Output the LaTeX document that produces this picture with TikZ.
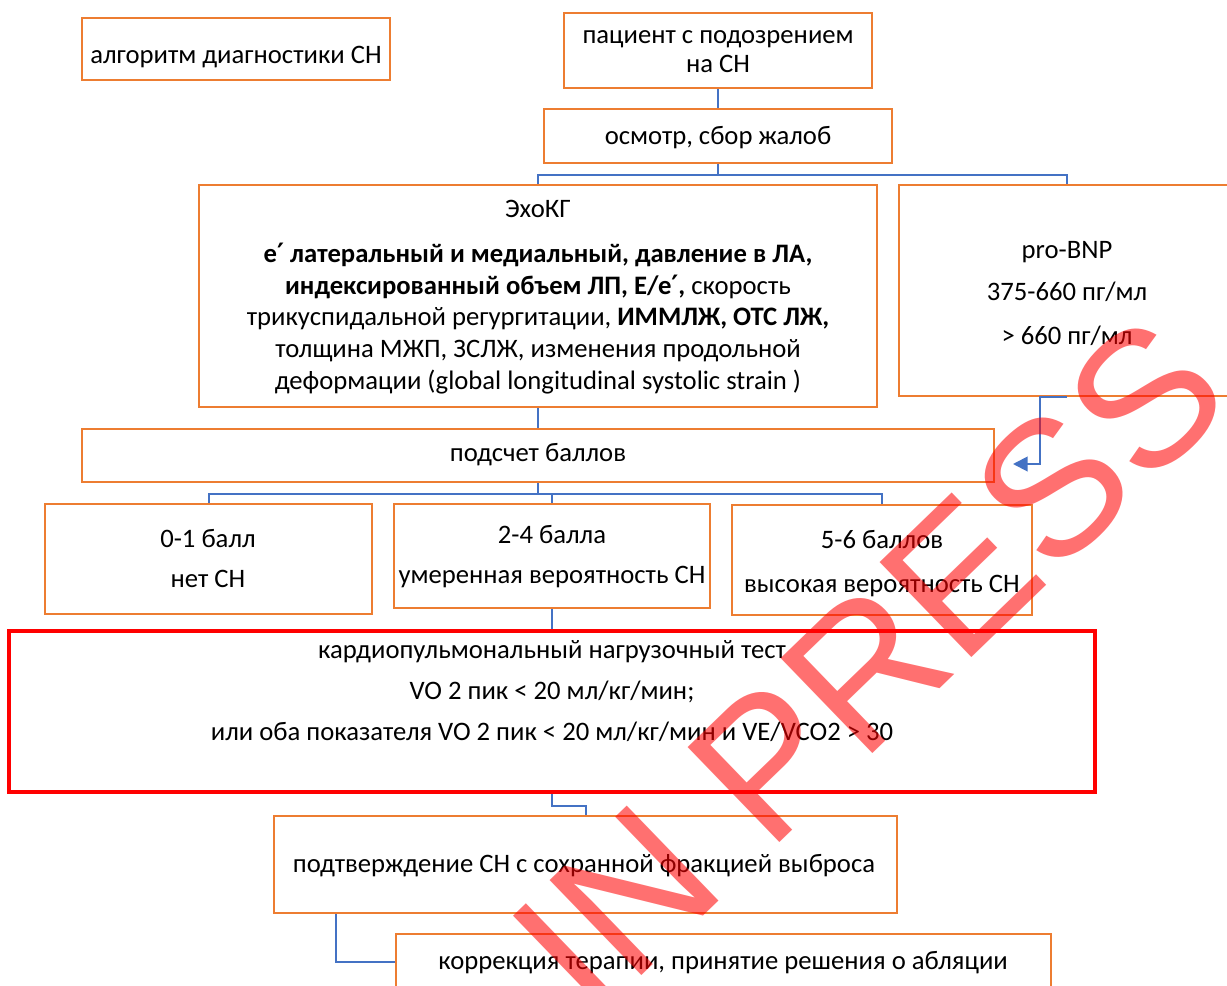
\documentclass[tikz,border=0pt]{standalone}
\usepackage{fontspec}
\setmainfont{Carlito}
\newfontfamily\wmfont{Liberation Sans}
\newfontfamily\primefont{DejaVu Sans}
\newcommand{\prm}{{\primefont ′}}
\usetikzlibrary{fit,arrows.meta,calc}
\definecolor{boxorange}{HTML}{ED7D31}
\definecolor{linkblue}{HTML}{4472C4}
\definecolor{alertred}{HTML}{FF0000}
\begin{document}
\begin{tikzpicture}[x=0.75pt,y=-0.75pt,
  obox/.style={draw=boxorange, line width=2pt, inner sep=0pt},
  rbox/.style={draw=alertred, line width=3pt, inner sep=0pt},
  txt/.style={font=\fontsize{20}{24}\selectfont, inner sep=0pt, anchor=base},
  link/.style={draw=linkblue, line width=1.5pt},
  wm/.style={font=\wmfont\fontsize{144}{144}\selectfont, text=alertred, text opacity=0.56, inner sep=0pt}
]
\useasboundingbox (0,0) rectangle (1227,985);
\fill[white] (0,0) rectangle (1227,985);
\begin{scope}
\clip (0,0) rectangle (1227,985);
% boxes
\node[obox, fit={(82,18) (390,80)}] (hdr) {};
\node[obox, fit={(564,13) (872,88)}] (pat) {};
\node[obox, fit={(544,109) (892,163)}] (osm) {};
\node[obox, fit={(199,185) (877,407)}] (echo) {};
\node[obox, fit={(899,185) (1235,396)}] (bnp) {};
\node[obox, fit={(82,429) (994,482)}] (score) {};
\node[obox, fit={(45,504) (372,614)}] (ra) {};
\node[obox, fit={(394,504) (710,608)}] (rb) {};
\node[obox, fit={(732,505) (1032,615)}] (rc) {};
\node[rbox, fit={(9,631) (1095,792)}] (cpt) {};
\node[obox, fit={(274,816) (897,913)}] (conf) {};
\node[obox, fit={(396,934) (1051,990)}] (corr) {};
% texts
\node[txt] (hdrt) at (236,63) {алгоритм диагностики СН};
\node[txt] (pat1) at (718,43) {пациент с подозрением};
\node[txt] (pat2) at (718,72) {на СН};
\node[txt] (osmt) at (718,144) {осмотр, сбор жалоб};
\node[txt] (echo0) at (538,217) {ЭхоКГ};
\node[txt] (echo1) at (538,262) {\bfseries e\prm{} латеральный и медиальный, давление в ЛА,};
\node[txt] (echo2) at (538,294) {\textbf{индексированный объем ЛП, E/e\prm,} скорость};
\node[txt] (echo3) at (538,325) {трикуспидальной регургитации, \textbf{ИММЛЖ, ОТС ЛЖ,}};
\node[txt] (echo4) at (538,357) {толщина МЖП, ЗСЛЖ, изменения продольной};
\node[txt] (echo5) at (538,389) {деформации (global longitudinal systolic strain )};
\node[txt] (bnp1) at (1067,258) {pro-BNP};
\node[txt] (bnp2) at (1067,300) {375-660 пг/мл};
\node[txt] (bnp3) at (1067,344) {> 660 пг/мл};
\node[txt] (scoret) at (538,461) {подсчет баллов};
\node[txt] (ra1) at (208,547) {0-1 балл};
\node[txt] (ra2) at (208,587) {нет СН};
\node[txt] (rb1) at (552,543) {2-4 балла};
\node[txt] (rb2) at (552,583) {умеренная вероятность СН};
\node[txt] (rc1) at (882,548) {5-6 баллов};
\node[txt] (rc2) at (882,592) {высокая вероятность СН};
\node[txt] (cpt1) at (552,658) {кардиопульмональный нагрузочный тест};
\node[txt] (cpt2) at (552,699) {VO 2 пик < 20 мл/кг/мин;};
\node[txt] (cpt3) at (552,740) {или оба показателя VO 2 пик < 20 мл/кг/мин и VE/VCO2 > 30};
\node[txt] (conft) at (584,872) {подтверждение СН с сохранной фракцией выброса};
\node[txt] (corrt) at (723,969) {коррекция терапии, принятие решения о абляции};
% connectors
\draw[link] (pat.south) -- (osm.north);
\draw[link] (osm.south) -- ++(0,11) -| (echo.north);
\draw[link] (osm.south) -- ++(0,11) -| (bnp.north);
\draw[link] (echo.south) -- (score.north);
\coordinate (arrowtip) at (1013,464);
\draw[link, -{Triangle[length=11pt,width=11pt]}] (bnp.south) -- ++(-27,0) |- (arrowtip);
\draw[link] (score.south) -- ++(0,11) coordinate (sb);
\draw[link] (sb) -| (ra.north);
\draw[link] (sb) -| (rb.north);
\draw[link] (sb) -| (rc.north);
\draw[link] (rb.south) -- (cpt.north);
\draw[link] (cpt.south) -- ++(0,12) -| (conf.north);
\draw[link] (conf.south west) ++(63,0) |- (corr.west);
% watermark
\node[wm, rotate=44] (wmark) at (869,665) {IN PRESS};
\end{scope}
\end{tikzpicture}
\end{document}
